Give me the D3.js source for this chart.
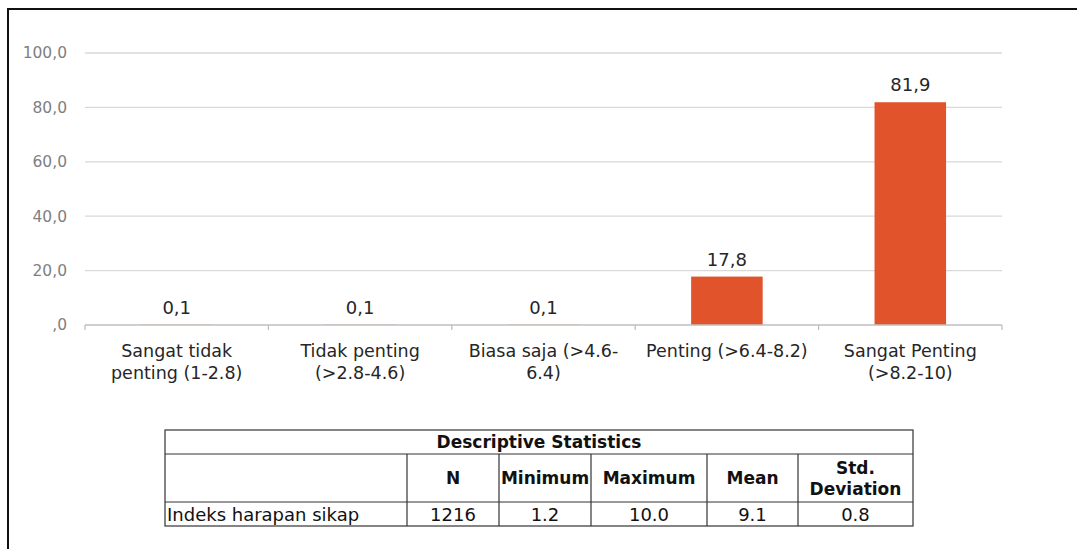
<!DOCTYPE html>
<html>
<head>
<meta charset="utf-8">
<script src="https://cdn.jsdelivr.net/npm/d3@7"></script>
<style>
  html, body { margin: 0; padding: 0; background: #fff; }
  svg { display: block; font-family: "DejaVu Sans", sans-serif; }
</style>
</head>
<body>
<svg id="chart" width="1077" height="549"></svg>
<script>
// Distribution of the attitude expectation index by category (percent)
const categories = [
  "Sangat tidak penting (1-2.8)",
  "Tidak penting (>2.8-4.6)",
  "Biasa saja (>4.6-6.4)",
  "Penting (>6.4-8.2)",
  "Sangat Penting (>8.2-10)"
];
const percentages = [0.1, 0.1, 0.1, 17.8, 81.9];
const yTicks = [0, 20, 40, 60, 80, 100];

// Descriptive statistics table
const tableTitle = "Descriptive Statistics";
const tableHeaders = ["", "N", "Minimum", "Maximum", "Mean", "Std.\nDeviation"];
const tableRow = ["Indeks harapan sikap", "1216", "1.2", "10.0", "9.1", "0.8"];

const svg = d3.select("#chart");

// outer frame
svg.append("rect")
  .attr("x", 8).attr("y", 9)
  .attr("width", 1090).attr("height", 560)
  .attr("fill", "none").attr("stroke", "#111").attr("stroke-width", 2);

const plot = { left: 85, right: 1002, top: 53, bottom: 325 };

const x = d3.scaleBand()
  .domain(categories)
  .range([plot.left, plot.right])
  .paddingInner(0.61).paddingOuter(0.305);

const xBoundary = d3.scaleBand()
  .domain(categories)
  .range([plot.left, plot.right])
  .padding(0);

const y = d3.scaleLinear().domain([0, 100]).range([plot.bottom, plot.top]);

const commaFmt = v => d3.format(".1f")(v).replace(".", ",");

// gridlines
svg.append("g")
  .selectAll("line")
  .data(yTicks.filter(t => t > 0))
  .join("line")
  .attr("x1", plot.left).attr("x2", plot.right)
  .attr("y1", d => y(d)).attr("y2", d => y(d))
  .attr("stroke", "#d9d9d9").attr("stroke-width", 1.3);

// y axis labels
const yAxis = svg.append("g")
  .attr("transform", `translate(${plot.left},0)`)
  .call(d3.axisLeft(y).tickValues(yTicks).tickSize(0).tickPadding(18)
    .tickFormat(d => d === 0 ? ",0" : commaFmt(d)));
yAxis.select(".domain").remove();
yAxis.selectAll("text")
  .attr("fill", "#7f7f7f")
  .style("font-size", "15.5px")
  .style("font-family", "DejaVu Sans, sans-serif");

// bars
svg.append("g")
  .selectAll("rect")
  .data(categories)
  .join("rect")
  .attr("x", d => x(d))
  .attr("width", x.bandwidth())
  .attr("y", (d, i) => y(percentages[i]))
  .attr("height", (d, i) => y(0) - y(percentages[i]))
  .attr("fill", "#e1532a");

// category axis line with boundary ticks
const axisG = svg.append("g");
axisG.append("line")
  .attr("x1", plot.left).attr("x2", plot.right)
  .attr("y1", y(0)).attr("y2", y(0))
  .attr("stroke", "#bfbfbf").attr("stroke-width", 1.3);
const boundaries = categories.map(c => xBoundary(c)).concat([plot.right]);
axisG.selectAll("line.tick")
  .data(boundaries)
  .join("line")
  .attr("class", "tick")
  .attr("x1", d => d).attr("x2", d => d)
  .attr("y1", y(0)).attr("y2", y(0) + 5)
  .attr("stroke", "#bfbfbf").attr("stroke-width", 1.3);

// value labels
svg.append("g")
  .selectAll("text")
  .data(categories)
  .join("text")
  .attr("x", d => x(d) + x.bandwidth() / 2)
  .attr("y", (d, i) => y(percentages[i]) - 11)
  .attr("text-anchor", "middle")
  .attr("fill", "#262626")
  .style("font-size", "18px")
  .text((d, i) => commaFmt(percentages[i]));

// wrap category names into lines, breaking at spaces or after hyphens
function wrapLabel(text, maxWidth, measure) {
  const tokens = text.match(/[^\s-]+-?|\s+/g).filter(t => t.trim().length);
  const lines = [];
  let cur = "";
  tokens.forEach(tok => {
    const sep = cur === "" || cur.endsWith("-") ? "" : " ";
    const trial = cur + sep + tok;
    if (cur !== "" && measure(trial) > maxWidth) {
      lines.push(cur);
      cur = tok;
    } else {
      cur = trial;
    }
  });
  if (cur) lines.push(cur);
  return lines;
}

const probe = svg.append("text").style("font-size", "17.5px").attr("visibility", "hidden");
const measure = s => { probe.text(s); return probe.node().getComputedTextLength(); };

const catG = svg.append("g");
categories.forEach(c => {
  const lines = wrapLabel(c, 170, measure);
  const t = catG.append("text")
    .attr("x", xBoundary(c) + xBoundary.bandwidth() / 2)
    .attr("y", 357)
    .attr("text-anchor", "middle")
    .attr("fill", "#262626")
    .style("font-size", "17.5px");
  lines.forEach((ln, i) => {
    t.append("tspan")
      .attr("x", xBoundary(c) + xBoundary.bandwidth() / 2)
      .attr("dy", i === 0 ? 0 : 22)
      .text(ln);
  });
});
probe.remove();

// statistics table
const colEdges = [165, 407, 499, 591, 707, 798, 913];
const rowEdges = [430, 454, 502, 526];
const tbl = svg.append("g").attr("stroke", "#333").attr("stroke-width", 1.2);
tbl.append("rect")
  .attr("x", colEdges[0]).attr("y", rowEdges[0])
  .attr("width", colEdges[6] - colEdges[0]).attr("height", rowEdges[3] - rowEdges[0])
  .attr("fill", "none");
[rowEdges[1], rowEdges[2]].forEach(ry => {
  tbl.append("line").attr("x1", colEdges[0]).attr("x2", colEdges[6])
    .attr("y1", ry).attr("y2", ry);
});
colEdges.slice(1, 6).forEach(cx => {
  tbl.append("line").attr("x1", cx).attr("x2", cx)
    .attr("y1", rowEdges[1]).attr("y2", rowEdges[3]);
});

const txt = svg.append("g").attr("fill", "#111");
txt.append("text")
  .attr("x", (colEdges[0] + colEdges[6]) / 2)
  .attr("y", rowEdges[1] - 6)
  .attr("text-anchor", "middle")
  .style("font-size", "17px").style("font-weight", "bold")
  .text(tableTitle);

tableHeaders.forEach((h, i) => {
  if (!h) return;
  const cx = (colEdges[i] + colEdges[i + 1]) / 2;
  const parts = h.split("\n");
  const t = txt.append("text")
    .attr("text-anchor", "middle")
    .style("font-size", "17px").style("font-weight", "bold");
  const mid = (rowEdges[1] + rowEdges[2]) / 2;
  const startY = mid + 6 - (parts.length - 1) * 10.5;
  parts.forEach((p, k) => {
    t.append("tspan").attr("x", cx).attr("y", startY + k * 21).text(p);
  });
});

tableRow.forEach((v, i) => {
  const t = txt.append("text")
    .attr("y", rowEdges[3] - 5)
    .style("font-size", "18px")
    .text(v);
  if (i === 0) {
    t.attr("x", colEdges[0] + 2).attr("text-anchor", "start");
  } else {
    t.attr("x", (colEdges[i] + colEdges[i + 1]) / 2).attr("text-anchor", "middle");
  }
});
</script>
</body>
</html>
